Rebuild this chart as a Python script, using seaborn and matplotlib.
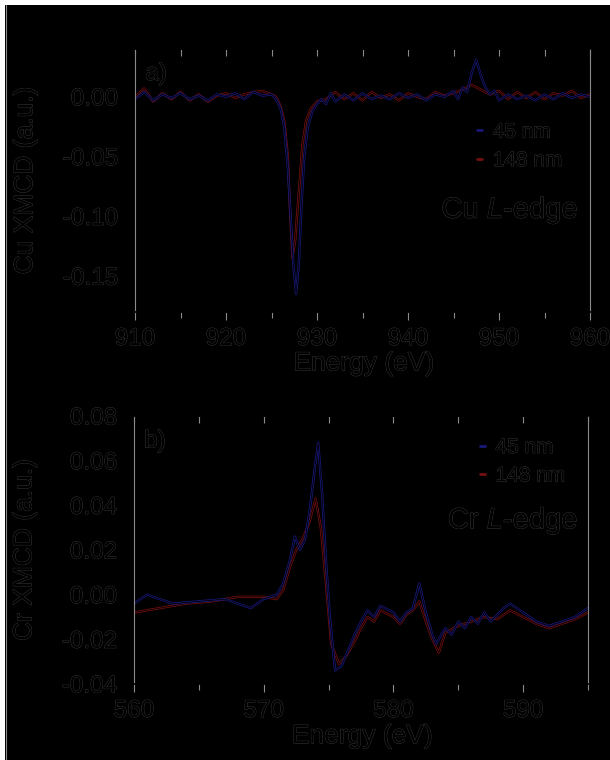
import numpy as np
import pandas as pd
import matplotlib
matplotlib.use("Agg")
import matplotlib.pyplot as plt
import matplotlib.patheffects as pe
from matplotlib.patches import Rectangle
from matplotlib.lines import Line2D
from matplotlib.ticker import MultipleLocator, FormatStrFormatter
import seaborn as sns

# ---------------- data ----------------
cu_e_45 = [910, 911, 912, 913, 914, 915, 916, 917, 918, 919, 920, 921, 922, 923, 924, 925,
           925.5, 926.0, 926.4, 926.8, 927.1, 927.4, 927.7, 928.0, 928.3, 928.6, 929.0, 929.5,
           930, 930.5, 931, 931.5, 932, 933, 934, 935, 936, 937, 938, 939, 940, 941, 942, 943,
           944, 945, 945.5, 946, 946.5, 947, 947.5, 948, 948.5, 949, 949.5, 950, 951, 952, 953,
           954, 955, 956, 957, 958, 959, 960]
cu_x_45 = [-0.002, 0.004, -0.003, 0.002, -0.001, 0.003, -0.002, 0.001, -0.003, 0.002, 0.000,
           0.003, -0.002, 0.004, 0.001, 0.002,
           -0.002, -0.010, -0.025, -0.060, -0.100, -0.140, -0.165, -0.140, -0.090, -0.050, -0.025,
           -0.012, -0.006, -0.002, -0.006, 0.003, -0.004, 0.002, -0.003, 0.003, -0.002, 0.001,
           -0.002, 0.003, -0.001, 0.002, -0.003, 0.002, 0.000, 0.005, -0.002, 0.008, 0.004,
           0.020, 0.031, 0.018, 0.008, 0.002, 0.005, -0.003, 0.002, -0.002, 0.001, -0.003,
           0.002, -0.002, 0.003, -0.001, 0.002, 0.000]

cu_e_148 = [910, 911, 912, 913, 914, 915, 916, 917, 918, 919, 920, 921, 922, 923, 924, 925,
            925.5, 926.0, 926.4, 926.8, 927.0, 927.3, 927.6, 928.0, 928.4, 928.8, 929.3, 930,
            931, 932, 933, 934, 935, 936, 937, 938, 939, 940, 941, 942, 943, 944, 945, 946,
            947, 948, 949, 950, 951, 952, 953, 954, 955, 956, 957, 958, 959, 960]
cu_x_148 = [0.000, 0.007, -0.004, 0.003, -0.002, 0.004, -0.003, 0.002, -0.004, 0.001, 0.003,
            -0.001, 0.002, 0.004, 0.005, 0.002,
            0.000, -0.008, -0.020, -0.050, -0.090, -0.135, -0.120, -0.080, -0.040, -0.020,
            -0.010, -0.004, -0.002, 0.004, -0.002, 0.003, -0.003, 0.004, -0.001, 0.002,
            -0.003, 0.003, 0.000, -0.002, 0.004, 0.001, 0.003, 0.006, 0.010, 0.006, 0.002,
            0.005, -0.002, 0.004, -0.001, 0.004, -0.002, 0.003, 0.001, 0.005, -0.001, 0.002]

cr_e_45 = [560, 561, 562, 563, 565, 567, 569, 570, 571, 571.5, 572, 572.4, 572.8, 573.2, 573.6,
           573.9, 574.2, 574.5, 574.8, 575.1, 575.5, 576, 576.5, 577, 577.5, 578, 578.5, 579,
           580, 580.5, 581, 581.5, 582, 582.5, 583, 583.3, 584, 584.5, 585, 585.5, 586, 586.5,
           587, 587.5, 588, 588.5, 589, 590, 591, 592, 593, 594, 595]
cr_x_45 = [-0.004, 0.000, -0.002, -0.004, -0.003, -0.002, -0.006, -0.002, 0.000, 0.005, 0.015,
           0.026, 0.020, 0.025, 0.040, 0.055, 0.068, 0.045, 0.015, -0.010, -0.034, -0.032,
           -0.025, -0.018, -0.012, -0.007, -0.010, -0.005, -0.008, -0.012, -0.008, -0.006,
           0.005, -0.008, -0.018, -0.022, -0.015, -0.018, -0.012, -0.015, -0.010, -0.013,
           -0.008, -0.012, -0.009, -0.006, -0.004, -0.008, -0.012, -0.014, -0.012, -0.010,
           -0.006]

cr_e_148 = [560, 562, 564, 566, 568, 570, 571, 571.5, 572, 572.5, 573, 573.5, 574, 574.4, 574.8,
            575.2, 575.8, 576.3, 577, 577.5, 578, 578.5, 579, 580, 580.5, 581, 581.5, 582,
            582.5, 583, 583.5, 584, 585, 586, 587, 588, 589, 590, 591, 592, 593, 594, 595]
cr_x_148 = [-0.008, -0.006, -0.004, -0.003, -0.001, -0.001, -0.002, 0.002, 0.012, 0.020, 0.025,
            0.032, 0.043, 0.030, 0.005, -0.022, -0.031, -0.028, -0.021, -0.015, -0.010, -0.012,
            -0.007, -0.010, -0.013, -0.009, -0.007, -0.003, -0.012, -0.020, -0.026, -0.017,
            -0.014, -0.012, -0.010, -0.011, -0.007, -0.010, -0.013, -0.015, -0.013, -0.011,
            -0.008]

series_labels = ["45 nm", "148 nm"]
cu_ticks_y = [-0.15, -0.10, -0.05, 0.00]
cr_ticks_y = [-0.04, -0.02, 0.00, 0.02, 0.04, 0.06, 0.08]

# ---------------- style ----------------
sns.set_theme(style="white")
plt.rcParams["font.family"] = ["Liberation Sans", "DejaVu Sans"]
plt.rcParams["axes.unicode_minus"] = False
plt.rcParams["mathtext.fontset"] = "custom"
plt.rcParams["mathtext.rm"] = "Liberation Sans"
plt.rcParams["mathtext.it"] = "Liberation Sans:italic"

BLUE = "#18187a"
RED = "#751010"
GRAY = "#8a8a8a"
TXT_FX = [pe.withStroke(linewidth=0.6, foreground="#3c3c3c")]

fig = plt.figure(figsize=(6.1, 7.6), dpi=100)
fig.patch.set_facecolor("white")
fig.patches.append(Rectangle((5 / 610, 0), 605 / 610, 755 / 760, transform=fig.transFigure,
                             facecolor="black", edgecolor="none", zorder=-10))
fig.lines.append(Line2D([5.5 / 610, 5.5 / 610], [0, 755 / 760], transform=fig.transFigure,
                        color=GRAY, lw=0.8))

ax1 = fig.add_axes([135 / 610, (760 - 312) / 760, 455 / 610, 263 / 760])
ax2 = fig.add_axes([134 / 610, (760 - 684) / 760, 454 / 610, 268 / 760])

cu_df = pd.concat([
    pd.DataFrame({"E": cu_e_148, "X": cu_x_148, "s": series_labels[1]}),
    pd.DataFrame({"E": cu_e_45, "X": cu_x_45, "s": series_labels[0]}),
])
cr_df = pd.concat([
    pd.DataFrame({"E": cr_e_148, "X": cr_x_148, "s": series_labels[1]}),
    pd.DataFrame({"E": cr_e_45, "X": cr_x_45, "s": series_labels[0]}),
])
pal = {series_labels[0]: BLUE, series_labels[1]: RED}


def style_axes(ax, df, xlim, ylim, yticks, xmajor, panel, edge_text, leg_anchor, edge_pos):
    sns.lineplot(data=df, x="E", y="X", hue="s", palette=pal, estimator=None, sort=False,
                 ax=ax, legend=False)
    for ln in ax.get_lines():
        c = ln.get_color()
        ln.set_linewidth(0.6)
        ln.set_path_effects([pe.Stroke(linewidth=1.7, foreground=c), pe.Normal()])
        ln.set_color("black")
    ax.set_facecolor("black")
    ax.set_xlim(*xlim)
    ax.set_ylim(*ylim)
    ax.set_yticks(yticks)
    ax.yaxis.set_major_formatter(FormatStrFormatter("%.2f"))
    ax.xaxis.set_major_locator(MultipleLocator(xmajor))
    ax.xaxis.set_minor_locator(MultipleLocator(xmajor / 2))
    for side in ["left", "right"]:
        ax.spines[side].set_color(GRAY)
        ax.spines[side].set_linewidth(0.8)
    for side in ["top", "bottom"]:
        ax.spines[side].set_color("black")
    ax.tick_params(axis="x", which="both", bottom=True, top=False, direction="out",
                   color=GRAY, width=0.8, labelcolor="black", labelsize=17.5, pad=6)
    ax.tick_params(axis="x", which="major", length=5.5)
    ax.tick_params(axis="x", which="minor", length=4)
    ax.tick_params(axis="y", which="both", left=True, length=0, labelcolor="black",
                   labelsize=17.5, pad=12)
    # top ticks pointing inward
    sec = ax.secondary_xaxis("top")
    sec.xaxis.set_major_locator(MultipleLocator(xmajor / 2))
    sec.tick_params(axis="x", which="both", direction="in", length=5, color=GRAY, width=0.8,
                    labeltop=False)
    sec.spines["top"].set_color("black")
    for lab in ax.get_xticklabels() + ax.get_yticklabels():
        lab.set_path_effects(TXT_FX)
    ax.set_xlabel("Energy (eV)", fontsize=19, color="black", path_effects=TXT_FX)
    ax.xaxis.set_label_coords(0.503, -0.15)
    ax.yaxis.set_label_coords(-0.215, 0.5)
    ax.text(0.046, 0.905, panel, transform=ax.transAxes, fontsize=17.5, color="black",
            ha="center", va="center", path_effects=TXT_FX)
    ax.text(edge_pos[0], edge_pos[1], edge_text, transform=ax.transAxes, fontsize=21,
            color="black", ha="right", va="center", path_effects=TXT_FX)
    handles = [Line2D([], [], color=BLUE, lw=2.0), Line2D([], [], color=RED, lw=2.0)]
    leg = ax.legend(handles, series_labels, loc="upper left", bbox_to_anchor=leg_anchor,
                    frameon=False, fontsize=15, handlelength=0.25, handletextpad=0.5,
                    labelspacing=0.45, borderpad=0, borderaxespad=0)
    for t in leg.get_texts():
        t.set_color("black")
        t.set_path_effects(TXT_FX)


style_axes(ax1, cu_df, (910, 960), (-0.18, 0.04), cu_ticks_y, 10, "a)",
           "Cu $\\mathit{L}$-edge", (0.752, 0.72), (0.974, 0.388))
ax1.set_ylabel("Cu XMCD (a.u.)", fontsize=19, color="black", path_effects=TXT_FX)

style_axes(ax2, cr_df, (560, 595), (-0.04, 0.08), cr_ticks_y, 10, "b)",
           "Cr $\\mathit{L}$-edge", (0.762, 0.918), (0.978, 0.61))
ax2.set_ylabel("Cr XMCD (a.u.)", fontsize=19, color="black", path_effects=TXT_FX)

fig.savefig("out.png", dpi=100, facecolor=fig.get_facecolor())
